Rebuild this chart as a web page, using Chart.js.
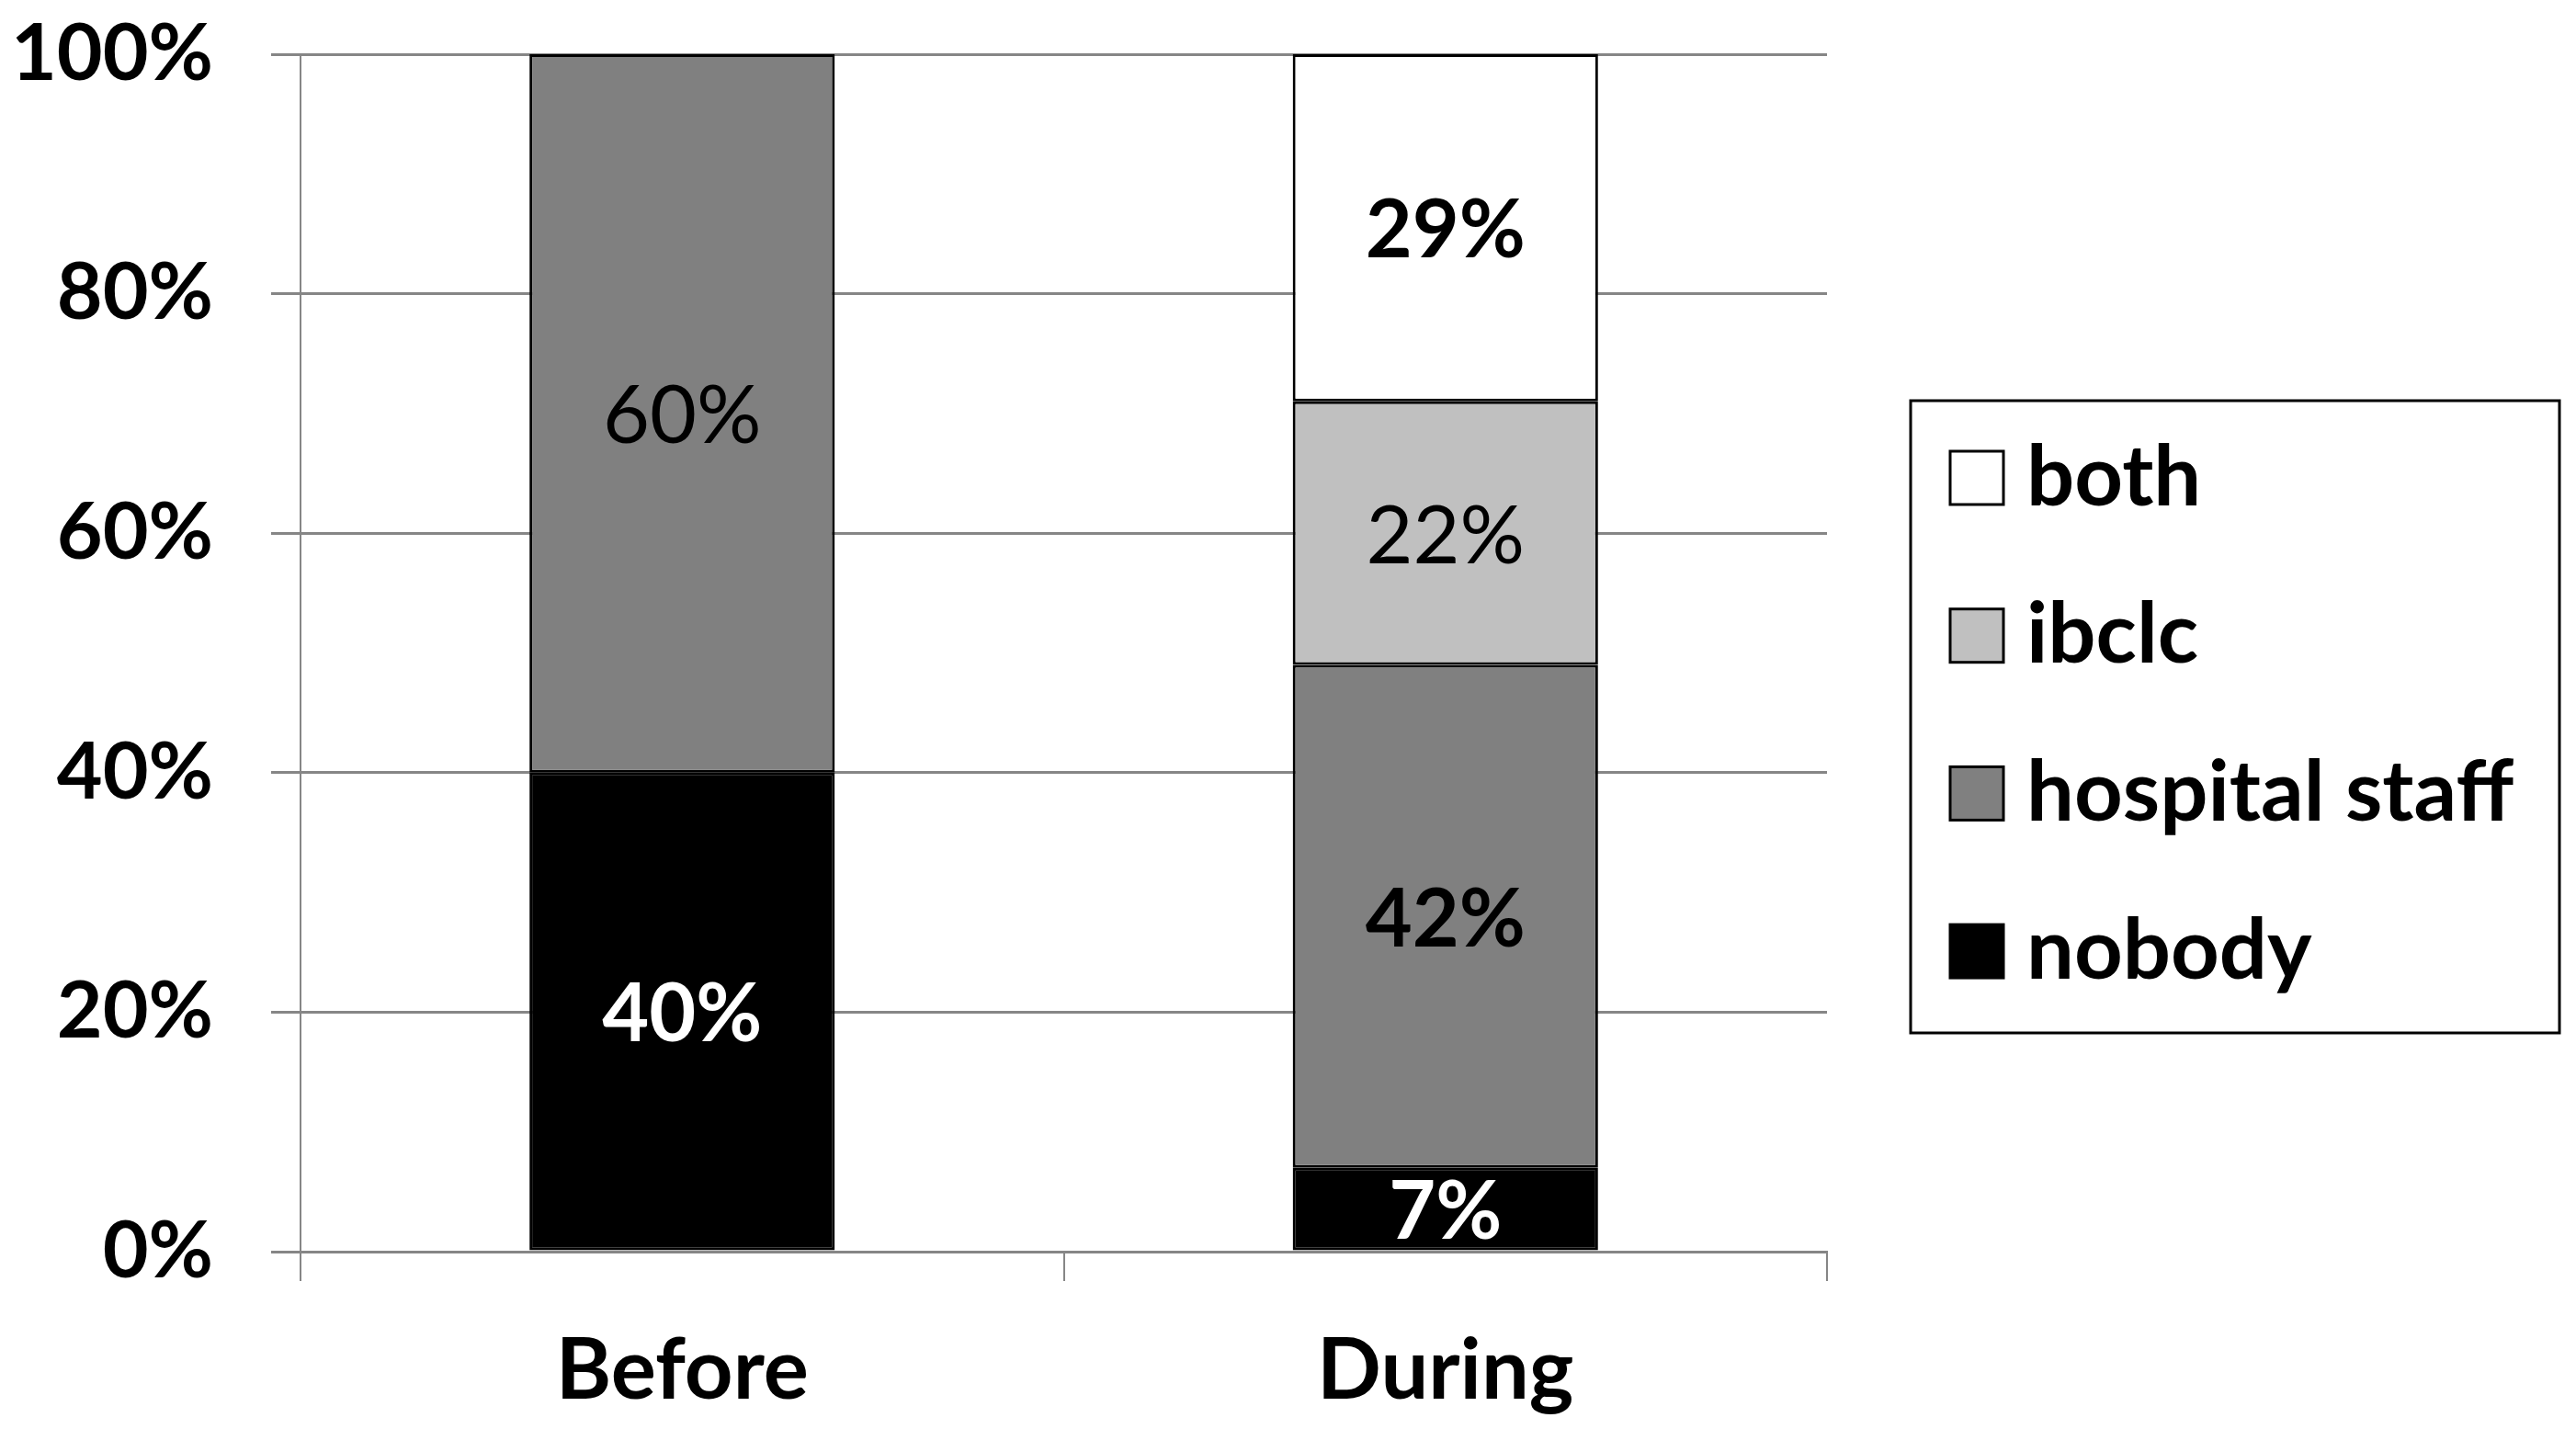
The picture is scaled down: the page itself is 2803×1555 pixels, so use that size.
<!DOCTYPE html>
<html>
<head>
<meta charset="utf-8">
<script src="https://cdn.jsdelivr.net/npm/chart.js@4"></script>
<style>
  html, body { margin: 0; background: #fff; }
</style>
</head>
<body>
<canvas id="chart" width="2803" height="1555"></canvas>
<script>
// categories and stacked series (percent)
const categories = ["Before", "During"];
const nobody = [40, 7];
const hospitalStaff = [60, 42];
const ibclc = [0, 22];
const both = [0, 29];

// label weights as in the original (some labels are plain, some bold)
const labelWeights = {
    nobody: ["bold", "bold"],
    hospitalStaff: ["normal", "bold"],
    ibclc: ["normal", "normal"],
    both: ["bold", "bold"]
};

const gridGray = "#868686";
Chart.defaults.font.family = "Lato, 'Open Sans', sans-serif";
Chart.defaults.font.size = 86;
Chart.defaults.font.weight = "bold";
Chart.defaults.color = "#000";

// ------------------- DATA LABELS -------------------
const segmentLabels = {
    id: "segmentLabels",
    afterDatasetsDraw(chart) {
        const ctx = chart.ctx;
        chart.data.datasets.forEach((ds, di) => {
            const meta = chart.getDatasetMeta(di);
            meta.data.forEach((bar, i) => {
                const v = ds.data[i];
                if (!v) return;
                const { x, y, base } = bar.getProps(["x", "y", "base"], true);
                ctx.save();
                ctx.font = `${labelWeights[ds.key][i]} 88px Lato, sans-serif`;
                ctx.fillStyle = ds.labelColor;
                ctx.textAlign = "center";
                ctx.textBaseline = "middle";
                ctx.fillText(v + "%", x, (y + base) / 2 + 4);
                ctx.restore();
            });
        });
    }
};

// ------------------- BOXED LEGEND -------------------
const boxedLegend = {
    id: "boxedLegend",
    afterDraw(chart) {
        const ctx = chart.ctx;
        const left = chart.chartArea.right + 91;
        const top = 436, w = 706, h = 688;
        ctx.save();
        ctx.strokeStyle = "#000";
        ctx.lineWidth = 3;
        ctx.strokeRect(left, top, w, h);
        const items = chart.data.datasets.slice().reverse();
        items.forEach((ds, k) => {
            const cy = 520 + k * 171.7;
            ctx.fillStyle = ds.backgroundColor;
            ctx.fillRect(left + 43, cy - 29, 58, 58);
            ctx.lineWidth = 3;
            ctx.strokeStyle = "#000";
            ctx.strokeRect(left + 43, cy - 29, 58, 58);
            ctx.fillStyle = "#000";
            ctx.font = "bold 92px Lato, sans-serif";
            ctx.textAlign = "left";
            ctx.textBaseline = "middle";
            ctx.fillText(ds.label, left + 126, cy);
        });
        ctx.restore();
    }
};

const ctx = document.getElementById("chart").getContext("2d");
const chart = new Chart(ctx, {
    type: "bar",
    data: {
        labels: categories,
        datasets: [
            { key: "nobody", label: "nobody", data: nobody, backgroundColor: "#000000", labelColor: "#fff" },
            { key: "hospitalStaff", label: "hospital staff", data: hospitalStaff, backgroundColor: "#808080", labelColor: "#000" },
            { key: "ibclc", label: "ibclc", data: ibclc, backgroundColor: "#c0c0c0", labelColor: "#000" },
            { key: "both", label: "both", data: both, backgroundColor: "#ffffff", labelColor: "#000" }
        ].map(d => Object.assign(d, {
            borderColor: "#000",
            borderWidth: 3,
            borderSkipped: false,
            barPercentage: 0.4,
            categoryPercentage: 1
        }))
    },
    options: {
        responsive: false,
        devicePixelRatio: 1,
        animation: false,
        layout: { padding: { top: 59, right: 815, left: 0, bottom: 0 } },
        plugins: { legend: { display: false }, tooltip: { enabled: false } },
        scales: {
            x: {
                stacked: true,
                grid: { offset: true, drawOnChartArea: false, color: gridGray, lineWidth: 2, tickLength: 32 },
                border: { color: gridGray, width: 3 },
                ticks: { padding: 43, font: { size: 92 } },
                afterFit(s) { s.height = 193; s.paddingLeft = 0; s.paddingRight = 0; }
            },
            y: {
                stacked: true,
                min: 0,
                max: 100,
                ticks: { stepSize: 20, padding: 63, callback: v => v + "%" },
                grid: { color: gridGray, lineWidth: 3, tickLength: 32 },
                border: { color: gridGray, width: 2 },
                afterFit(s) { s.width = 327; s.paddingTop = 0; s.paddingBottom = 0; }
            }
        }
    },
    plugins: [segmentLabels, boxedLegend]
});
</script>
</body>
</html>
